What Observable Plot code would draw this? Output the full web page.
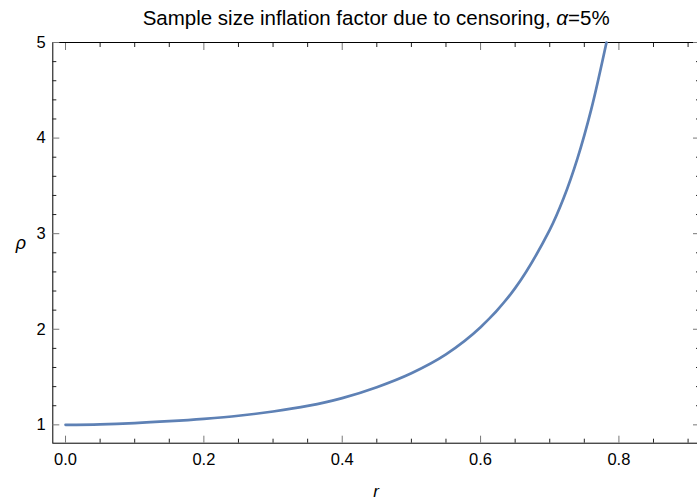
<!DOCTYPE html>
<html>
<head>
<meta charset="utf-8">
<script src="https://cdn.jsdelivr.net/npm/d3@7"></script>
<script src="https://cdn.jsdelivr.net/npm/@observablehq/plot@0.6"></script>
<style>
  html, body { margin: 0; padding: 0; background: white; }
  #chart svg { font-family: "Liberation Sans", Arial, sans-serif; overflow: visible; }
</style>
</head>
<body>
<div id="chart"></div>
<script>
// Data
const rValues   = [0, 0.05, 0.1, 0.15, 0.2, 0.25, 0.3, 0.35, 0.4, 0.45, 0.5, 0.55, 0.6, 0.65, 0.7, 0.72, 0.74, 0.76, 0.782];
const rhoValues = [1.0, 1.005, 1.018, 1.038, 1.063, 1.095, 1.14, 1.198, 1.28, 1.394, 1.54, 1.737, 2.02, 2.43, 3.04, 3.37, 3.785, 4.30, 5.0];
const xMajorTicks = [0, 0.2, 0.4, 0.6, 0.8];
const xMinorTicks = [0.05, 0.1, 0.15, 0.25, 0.3, 0.35, 0.45, 0.5, 0.55, 0.65, 0.7, 0.75, 0.85, 0.9];
const yMajorTicks = [1, 2, 3, 4, 5];
const yMinorTicks = [1.2, 1.4, 1.6, 1.8, 2.2, 2.4, 2.6, 2.8, 3.2, 3.4, 3.6, 3.8, 4.2, 4.4, 4.6, 4.8];
const titleStart = "Sample size inflation factor due to censoring, ";
const titleSymbol = "\u03B1";
const titleEnd = "=5%";
const xLabel = "r";
const yLabel = "\u03C1";

const data = rValues.map((r, i) => ({r, rho: rhoValues[i]}));

const majorColor = "#777";
const minorColor = "#222";

const chart = Plot.plot({
  width: 697,
  height: 502,
  marginTop: 42,
  marginBottom: 59.3,
  marginLeft: 52.3,
  marginRight: -2,
  style: {fontFamily: "'Liberation Sans', Arial, sans-serif", background: "white"},
  x: {domain: [-0.0184, 0.9165]},
  y: {domain: [0.808, 5]},
  marks: [
    Plot.frame({stroke: "black", strokeWidth: 1}),
    // bottom axis
    Plot.axisX(xMajorTicks, {anchor: "bottom", tickSize: -7, text: null, stroke: majorColor, label: null}),
    Plot.axisX(xMinorTicks, {anchor: "bottom", tickSize: -4, text: null, stroke: minorColor, label: null}),
    Plot.axisX(xMajorTicks, {anchor: "bottom", tickSize: 0, tickPadding: 10, tickFormat: d3.format(".1f"), fontSize: 16.5, fill: "black", label: null}),
    // top axis
    Plot.axisX(xMajorTicks, {anchor: "top", tickSize: -7, text: null, stroke: majorColor, label: null}),
    Plot.axisX(xMinorTicks, {anchor: "top", tickSize: -4, text: null, stroke: minorColor, label: null}),
    // left axis
    Plot.axisY(yMajorTicks, {anchor: "left", tickSize: -7, text: null, stroke: majorColor, label: null}),
    Plot.axisY(yMinorTicks, {anchor: "left", tickSize: -4, text: null, stroke: minorColor, label: null}),
    Plot.axisY(yMajorTicks, {anchor: "left", tickSize: 0, tickPadding: 7, tickFormat: d3.format("d"), fontSize: 16.5, fill: "black", label: null}),
    // right axis
    Plot.axisY(yMajorTicks, {anchor: "right", tickSize: -7, text: null, stroke: majorColor, label: null}),
    Plot.axisY(yMinorTicks, {anchor: "right", tickSize: -4, text: null, stroke: minorColor, label: null}),
    // curve
    Plot.line(data, {x: "r", y: "rho", stroke: "#5E81B5", strokeWidth: 2.7, curve: "catmull-rom"}),
    // title and axis labels
    Plot.text([titleStart + titleSymbol + titleEnd], {frameAnchor: "top", lineAnchor: "middle", dy: -24, fontSize: 20.5, fill: "black", className: "chart-title"}),
    Plot.text([xLabel], {frameAnchor: "bottom", lineAnchor: "middle", dy: 48, fontSize: 17, fontStyle: "italic", fill: "black"}),
    Plot.text([yLabel], {frameAnchor: "left", lineAnchor: "middle", dx: -37, fontSize: 18, fontStyle: "italic", fill: "black"})
  ]
});

// italicise the alpha in the title, keeping it as real text
const t = chart.querySelector(".chart-title text");
if (t) {
  t.textContent = "";
  const ns = "http://www.w3.org/2000/svg";
  const a = document.createElementNS(ns, "tspan"); a.textContent = titleStart;
  const b = document.createElementNS(ns, "tspan"); b.textContent = titleSymbol; b.setAttribute("font-style", "italic");
  const c = document.createElementNS(ns, "tspan"); c.textContent = titleEnd;
  t.append(a, b, c);
}
document.getElementById("chart").appendChild(chart);
</script>
</body>
</html>
